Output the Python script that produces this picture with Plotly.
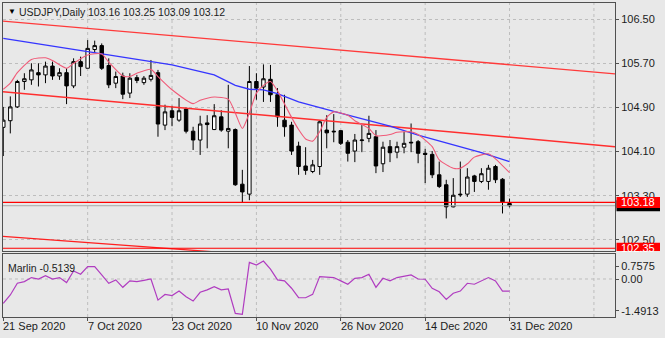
import plotly.graph_objects as go

# ---------------------------------------------------------------------------
# USDJPY daily bars, 21 Sep 2020 .. 31 Dec 2020 (bar index 0..72)
# ---------------------------------------------------------------------------
opens = [104.54, 104.66, 104.91, 105.37, 105.40, 105.53, 105.49, 105.65, 105.47, 105.53,
         105.29, 105.73, 105.61, 105.95, 106.02, 105.66, 105.34, 105.47, 105.16, 105.44,
         105.35, 105.41, 105.53, 104.58, 104.84, 104.67, 104.87, 104.47, 104.31, 104.62,
         104.50, 104.73, 104.47, 104.50, 103.51, 103.33, 105.37, 105.27, 105.41, 105.13,
         104.67, 104.58, 104.20, 103.84, 103.74, 103.83, 104.49, 104.47, 104.48, 104.27,
         104.11, 104.30, 104.34, 104.37, 103.88, 104.19, 104.09, 104.18, 104.27, 104.28,
         104.07, 104.05, 103.68, 103.50, 103.10, 103.33, 103.33, 103.66, 103.56, 103.56,
         103.83, 103.60, 103.16]
highs = [104.91, 105.10, 105.40, 105.52, 105.70, 105.70, 105.73, 105.73, 105.61, 105.61,
         105.79, 105.82, 106.12, 106.11, 106.06, 105.79, 105.55, 105.53, 105.52, 105.49,
         105.47, 105.76, 105.58, 104.95, 104.93, 105.07, 104.90, 104.55, 104.75, 104.76,
         104.96, 104.85, 105.31, 104.52, 103.77, 105.65, 105.52, 105.68, 105.67, 105.25,
         105.13, 104.64, 104.28, 104.18, 103.95, 104.67, 104.76, 104.78, 104.49, 104.31,
         104.42, 104.58, 104.75, 104.49, 104.28, 104.31, 104.28, 104.46, 104.61, 104.31,
         104.15, 104.11, 103.92, 103.59, 103.62, 103.92, 103.80, 103.68, 103.80, 103.86,
         103.86, 103.62, 103.25]
lows = [104.02, 104.43, 104.89, 105.22, 105.31, 105.28, 105.34, 105.40, 105.40, 104.96,
        105.25, 105.47, 105.61, 105.89, 105.58, 105.25, 105.25, 105.05, 105.07, 105.34,
        105.31, 105.37, 104.37, 104.49, 104.56, 104.64, 104.43, 104.13, 104.04, 104.16,
        104.49, 104.46, 104.16, 103.48, 103.18, 103.22, 105.04, 105.00, 105.00, 104.55,
        104.37, 104.04, 103.68, 103.68, 103.71, 103.68, 104.16, 104.27, 104.22, 103.92,
        103.91, 104.09, 104.27, 103.71, 103.73, 103.91, 103.98, 104.07, 104.09, 103.89,
        103.53, 103.62, 103.44, 102.89, 103.09, 103.28, 103.28, 103.37, 103.53, 103.41,
        103.53, 102.98, 103.09]
closes = [104.67, 104.91, 105.37, 105.42, 105.58, 105.49, 105.65, 105.47, 105.53, 105.29,
          105.73, 105.64, 105.97, 106.02, 105.61, 105.31, 105.46, 105.14, 105.43, 105.39,
          105.43, 105.48, 104.60, 104.82, 104.72, 104.84, 104.47, 104.31, 104.60, 104.59,
          104.75, 104.49, 104.52, 103.50, 103.37, 105.37, 105.25, 105.42, 105.13, 104.73,
          104.55, 104.11, 103.83, 103.76, 103.86, 104.64, 104.44, 104.46, 104.25, 104.07,
          104.31, 104.31, 104.43, 103.84, 104.18, 104.08, 104.19, 104.25, 104.26, 104.07,
          104.05, 103.68, 103.47, 103.10, 103.31, 103.32, 103.64, 103.56, 103.70, 103.80,
          103.59, 103.19, 103.12]
bars = list(range(len(closes)))

# Marlin oscillator, one value per bar
marlin = [-1.03, -0.675, -0.18, -0.11, 0.06, 0.0, 0.14, 0.0, 0.06, -0.15,
          0.34, 0.20, 0.52, 0.52, 0.17, -0.18, -0.04, -0.35, -0.08, -0.11,
          -0.06, 0.0, -0.89, -0.65, -0.70, -0.51, -0.75, -0.93, -0.56, -0.46,
          -0.32, -0.46, -0.42, -1.45, -1.4913, 0.70, 0.59, 0.7575, 0.42, -0.04,
          -0.08, -0.39, -0.79, -0.79, -0.65, 0.10, 0.08, 0.06, -0.08, -0.22,
          0.03, 0.06, 0.20, -0.35, 0.03, -0.08, 0.06, 0.10, 0.17, 0.0,
          -0.01, -0.39, -0.54, -0.86, -0.60, -0.51, -0.18, -0.22, -0.08, 0.06,
          -0.08, -0.51, -0.5139]

# Slow (blue) and fast (pink) moving averages, sampled at bar indices
ma_slow_bar = [0, 20, 24, 30, 33, 35, 37, 39, 42, 47, 51, 55, 59, 64, 68, 72]
ma_slow = [106.15, 105.76, 105.67, 105.49, 105.30, 105.23, 105.22, 105.15, 105.00,
           104.83, 104.69, 104.56, 104.40, 104.22, 104.08, 103.92]
ma_fast_bar = [0, 1, 2, 4, 6, 7, 9, 10, 12, 14, 15, 17, 18, 19, 21, 22, 24, 27, 28, 30,
               32, 33, 34, 35, 36, 37, 38, 39, 41, 42, 43, 44, 45, 46, 47, 49, 50, 52,
               53, 55, 56, 58, 59, 61, 62, 64, 65, 66, 67, 69, 70, 72]
ma_fast = [105.23, 105.34, 105.53, 105.77, 105.80, 105.75, 105.61, 105.70, 105.85, 105.87,
           105.72, 105.47, 105.46, 105.52, 105.59, 105.46, 105.22, 104.97, 105.03, 105.09,
           105.05, 104.80, 104.52, 104.80, 105.16, 105.30, 105.37, 105.20, 104.72, 104.50,
           104.33, 104.29, 104.46, 104.72, 104.82, 104.76, 104.66, 104.52, 104.39, 104.41,
           104.45, 104.46, 104.41, 104.19, 103.95, 103.80, 103.80, 103.88, 104.00, 104.06,
           103.97, 103.72]

# Trend channel lines (bar index -> price at both ends)
trend_bar = [-0.47, 87.0]
channel_top = [106.47, 105.51]
channel_mid = [105.19, 104.19]
channel_low = [102.57, 101.75]

# Horizontal levels
level_support = 103.18
level_target = 102.35

price_ticks = [102.50, 103.30, 104.10, 104.90, 105.70, 106.50]
date_tick_bars = [0, 12, 24, 36, 48, 60, 72]
date_tick_labels = ["21 Sep 2020", "7 Oct 2020", "23 Oct 2020", "10 Nov 2020",
                    "26 Nov 2020", "14 Dec 2020", "31 Dec 2020"]
grid_bars = [12, 24, 36, 48, 60, 72, 84]

# ---------------------------------------------------------------------------
# Geometry
# ---------------------------------------------------------------------------
W, H = 665, 338
ML, MR, MT, MB = 3, 50, 3, 21
PW, PH = W - ML - MR, H - MT - MB
MAIN_TOP, MAIN_BOT = 3, 251
IND_TOP, IND_BOT = 254, 317

def px_x(px):
    return (px - ML) / PW

def px_y(py):
    return (H - MB - py) / PH

x_range = [-0.04, 87.0]
y_range = [102.30, 106.792]
ind_range = [-1.603, 1.055]
ppu_main = (MAIN_BOT - MAIN_TOP) / (y_range[1] - y_range[0])
ppu_ind = (IND_BOT - IND_TOP) / (ind_range[1] - ind_range[0])

BG = "#e8e8e8"
FRAME = "#505050"
GRID = "#bdbdbd"
TXT = "#1c1c1c"
FONT = "Liberation Sans"

fig = go.Figure()

# Channel and level lines
for vals, col, w in [(channel_top, "#ff3a3a", 1.3), (channel_mid, "#ff2e2e", 1.5),
                     (channel_low, "#ff2020", 1.3)]:
    fig.add_trace(go.Scatter(x=trend_bar, y=vals, mode="lines", line=dict(color=col, width=w),
                             hoverinfo="skip", showlegend=False, xaxis="x", yaxis="y"))

for lvl in [level_support, level_target]:
    fig.add_trace(go.Scatter(x=[x_range[0] - 1, x_range[1] + 1], y=[lvl, lvl], mode="lines",
                             line=dict(color="#ff0000", width=1.2), hoverinfo="skip",
                             showlegend=False, xaxis="x", yaxis="y"))

# Bid line
fig.add_trace(go.Scatter(x=[x_range[0] - 1, x_range[1] + 1], y=[closes[-1]] * 2, mode="lines",
                         line=dict(color="#a8a8a8", width=1), hoverinfo="skip",
                         showlegend=False, xaxis="x", yaxis="y"))

# Candles
fig.add_trace(go.Candlestick(
    x=bars, open=opens, high=highs, low=lows, close=closes,
    increasing=dict(line=dict(color="#000000", width=1), fillcolor="#ffffff"),
    decreasing=dict(line=dict(color="#000000", width=1), fillcolor="#000000"),
    whiskerwidth=0, hoverinfo="skip", showlegend=False, xaxis="x", yaxis="y"))

# Moving averages
fig.add_trace(go.Scatter(x=ma_slow_bar, y=ma_slow, mode="lines",
                         line=dict(color="#3535ff", width=1.3), hoverinfo="skip",
                         showlegend=False, xaxis="x", yaxis="y"))
fig.add_trace(go.Scatter(x=ma_fast_bar, y=ma_fast, mode="lines",
                         line=dict(color="#f05a78", width=1.1, shape="spline", smoothing=0.6),
                         hoverinfo="skip", showlegend=False, xaxis="x", yaxis="y"))

# Marlin oscillator
fig.add_trace(go.Scatter(x=bars, y=marlin, mode="lines", line=dict(color="#b03cc0", width=1.2),
                         hoverinfo="skip", showlegend=False, xaxis="x2", yaxis="y2"))

shapes = []
# vertical grid in both panels
for b in grid_bars:
    for yr in ["y domain", "y2 domain"]:
        shapes.append(dict(type="line", xref="x", yref=yr, x0=b, x1=b, y0=0, y1=1,
                           line=dict(color=GRID, width=1, dash="3px,3px"), layer="below"))
# zero line of the oscillator
shapes.append(dict(type="line", xref="x2 domain", yref="y2", x0=0, x1=1, y0=0, y1=0,
                   line=dict(color=GRID, width=1, dash="3px,3px"), layer="below"))

# price boxes on the right scale
box_half = 5.5 / ppu_main
annotations = []
for lvl, col in [(closes[-1], "#000000"), (level_support, "#ff0000"), (level_target, "#ff0000")]:
    shapes.append(dict(type="rect", xref="paper", yref="y", x0=px_x(616.5), x1=px_x(660),
                       y0=lvl - box_half, y1=lvl + box_half, fillcolor=col,
                       line=dict(width=0), layer="above"))
for lvl in [level_support, level_target]:
    annotations.append(dict(xref="paper", yref="y", x=px_x(638), y=lvl, text=f"{lvl:.2f}",
                            showarrow=False, xanchor="center", yanchor="middle",
                            font=dict(family=FONT, size=11, color="#ffffff")))

# chart title
annotations.append(dict(xref="paper", yref="paper", x=px_x(6), y=px_y(12), text="▼",
                        showarrow=False, xanchor="left", yanchor="middle",
                        font=dict(family=FONT, size=8, color="#000000")))
annotations.append(dict(xref="paper", yref="paper", x=px_x(17), y=px_y(12), text="USDJPY,Daily",
                        showarrow=False, xanchor="left", yanchor="middle",
                        font=dict(family=FONT, size=10.5, color=TXT)))
ohlc_txt = f"{opens[-1]:.2f} {highs[-1]:.2f} {lows[-1]:.2f} {closes[-1]:.2f}"
annotations.append(dict(xref="paper", yref="paper", x=px_x(86), y=px_y(12), text=ohlc_txt,
                        showarrow=False, xanchor="left", yanchor="middle",
                        font=dict(family=FONT, size=10.5, color=TXT)))
# oscillator caption
annotations.append(dict(xref="paper", yref="paper", x=px_x(6), y=px_y(268),
                        text=f"Marlin {marlin[-1]:.4f}", showarrow=False, xanchor="left",
                        yanchor="middle", font=dict(family=FONT, size=10.5, color=TXT)))
# date labels, left-aligned at their tick
for b, lab in zip(date_tick_bars, date_tick_labels):
    annotations.append(dict(xref="x2", yref="paper", x=b, y=px_y(326), text=lab,
                            showarrow=False, xanchor="left", yanchor="middle", xshift=-2,
                            font=dict(family=FONT, size=11, color=TXT)))

# oscillator scale labels sit just inside the panel extremes
ind_max, ind_min = max(marlin), min(marlin)
ind_tickvals = [ind_max - 5 / ppu_ind, 0.0, ind_min + 3.5 / ppu_ind]
ind_ticktext = [f"{ind_max:.4f}", "0.00", f"{ind_min:.4f}"]

main_dom = [px_y(MAIN_BOT), px_y(MAIN_TOP)]
ind_dom = [px_y(IND_BOT), px_y(IND_TOP)]

axis_common = dict(showline=True, linecolor=FRAME, linewidth=1, mirror=True, zeroline=False)

fig.update_layout(
    width=W, height=H, autosize=False,
    margin=dict(l=ML, r=MR, t=MT, b=MB, pad=0),
    paper_bgcolor=BG, plot_bgcolor=BG,
    showlegend=False,
    xaxis=dict(domain=[0, 1], range=x_range, anchor="y", showgrid=False, showticklabels=False,
               ticks="", rangeslider=dict(visible=False), **axis_common),
    yaxis=dict(domain=main_dom, range=y_range, anchor="x", side="right",
               tickvals=price_ticks, ticktext=[f"{v:.2f}" for v in price_ticks],
               ticks="outside", ticklen=3, tickcolor=FRAME, showgrid=True, gridcolor=GRID,
               griddash="3px,3px", tickfont=dict(family=FONT, size=11, color=TXT),
               **axis_common),
    xaxis2=dict(domain=[0, 1], range=x_range, anchor="y2", matches="x", showgrid=False,
                tickvals=date_tick_bars, showticklabels=False, ticks="outside", ticklen=3,
                tickcolor=FRAME, rangeslider=dict(visible=False), **axis_common),
    yaxis2=dict(domain=ind_dom, range=ind_range, anchor="x2", side="right",
                tickvals=ind_tickvals, ticktext=ind_ticktext, ticks="outside", ticklen=3,
                tickcolor=FRAME, showgrid=False,
                tickfont=dict(family=FONT, size=11, color=TXT), **axis_common),
    shapes=shapes,
    annotations=annotations,
)

fig.write_html("out.html")
